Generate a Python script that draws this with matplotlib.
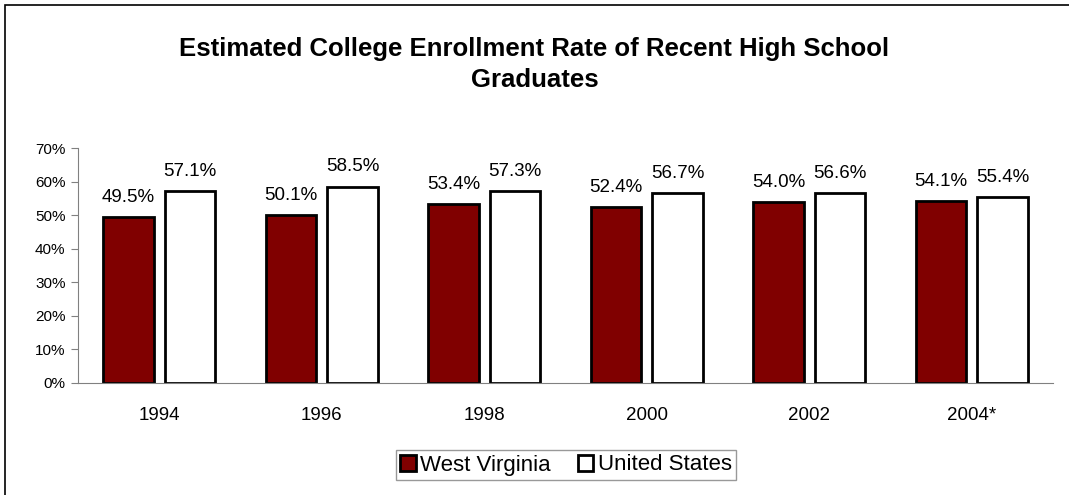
import numpy as np
import matplotlib.pyplot as plt
from matplotlib.patches import Rectangle

plt.rcParams['font.family'] = ['Liberation Sans', 'DejaVu Sans']

# college enrollment rate of recent high school graduates (%)
years = ["1994", "1996", "1998", "2000", "2002", "2004*"]
west_virginia = [49.5, 50.1, 53.4, 52.4, 54.0, 54.1]
united_states = [57.1, 58.5, 57.3, 56.7, 56.6, 55.4]

fig = plt.figure(figsize=(10.69, 4.95), dpi=100)
ax = fig.add_axes([0.073, 0.2263, 0.912, 0.4747])

x = np.arange(len(years))
w = 0.31
b1 = ax.bar(x - 0.19, west_virginia, w, color="#800000", edgecolor="black",
            linewidth=2, label="West Virginia")
b2 = ax.bar(x + 0.19, united_states, w, color="white", edgecolor="black",
            linewidth=2, label="United States")

for bars, vals in [(b1, west_virginia), (b2, united_states)]:
    for bar, v in zip(bars, vals):
        ax.annotate(f"{v:.1f}%", (bar.get_x() + bar.get_width() / 2, v),
                    xytext=(0, 8), textcoords="offset points",
                    ha="center", va="bottom", fontsize=13.5)

ax.set_xlim(-0.5, len(years) - 0.5)
ax.set_ylim(0, 70)
ax.set_yticks(range(0, 71, 10))
ax.set_yticklabels([f"{t}%" for t in range(0, 71, 10)], fontsize=11)
ax.set_xticks(x)
ax.set_xticklabels(years, fontsize=13.5)
ax.tick_params(axis="x", length=0, pad=17)
ax.tick_params(axis="y", length=5, color="#808080", pad=4)
for s in ["top", "right"]:
    ax.spines[s].set_visible(False)
for s in ["left", "bottom"]:
    ax.spines[s].set_color("#808080")

fig.text(0.5, 0.87, "Estimated College Enrollment Rate of Recent High School\nGraduates",
         ha="center", va="center", fontsize=18.5, fontweight="bold", linespacing=1.4)

leg = fig.legend(loc="center", bbox_to_anchor=(566 / 1069, 1 - 465 / 495),
                 ncol=2, fontsize=16, frameon=True, fancybox=False,
                 handlelength=0.7, handleheight=0.7, handletextpad=0.2,
                 columnspacing=1.2, borderpad=0.2, borderaxespad=0)
leg.get_frame().set_edgecolor("#808080")
leg.get_frame().set_linewidth(1)

# outer chart border
fig.patches.append(Rectangle((5 / 1069, -0.1), 1.2, 1 - 5 / 495 + 0.1,
                             transform=fig.transFigure, fill=False,
                             edgecolor="black", linewidth=1.2))

fig.savefig("out.png", dpi=100)
